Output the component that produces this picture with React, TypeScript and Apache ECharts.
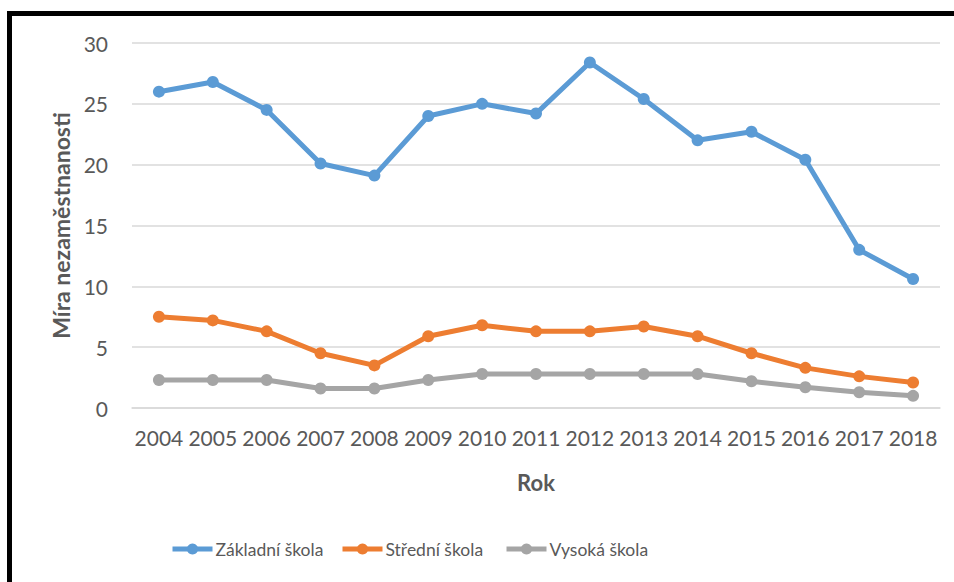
import React, { useEffect, useRef } from "react";
import * as echarts from "echarts";

const years = ["2004","2005","2006","2007","2008","2009","2010","2011","2012","2013","2014","2015","2016","2017","2018"];
const zakladni = [26.0, 26.8, 24.5, 20.1, 19.1, 24.0, 25.0, 24.2, 28.4, 25.4, 22.0, 22.7, 20.4, 13.0, 10.6];
const stredni = [7.5, 7.2, 6.3, 4.5, 3.5, 5.9, 6.8, 6.3, 6.3, 6.7, 5.9, 4.5, 3.3, 2.6, 2.1];
const vysoka = [2.3, 2.3, 2.3, 1.6, 1.6, 2.3, 2.8, 2.8, 2.8, 2.8, 2.8, 2.2, 1.7, 1.3, 1.0];
const seriesNames = ["Základní škola", "Střední škola", "Vysoká škola"];
const colors = ["#5B9BD5", "#ED7D31", "#A5A5A5"];
const legendLefts = [170, 340, 504];

export default function App() {
  const ref = useRef<HTMLDivElement>(null);
  useEffect(() => {
    if (!ref.current) return;
    const chart = echarts.init(ref.current, null, { renderer: "svg" });
    const font = "Lato, 'Open Sans', sans-serif";
    const mk = (name: string, data: number[], color: string) => ({
      name,
      type: "line",
      data,
      symbol: "circle",
      symbolSize: 12,
      lineStyle: { width: 5, color },
      itemStyle: { color },
    });
    chart.setOption({
      animation: false,
      backgroundColor: "#ffffff",
      textStyle: { fontFamily: font },
      grid: { left: 132, right: 14, top: 43, bottom: 174, containLabel: false },
      xAxis: {
        type: "category",
        data: years,
        boundaryGap: true,
        axisLine: { show: true, lineStyle: { color: "#d9d9d9", width: 1.5 } },
        axisTick: { show: false },
        axisLabel: { color: "#595959", fontSize: 21, margin: 19, interval: 0, fontFamily: font },
        name: "Rok",
        nameLocation: "middle",
        nameGap: 63,
        nameTextStyle: { color: "#595959", fontSize: 22, fontWeight: "bold", fontFamily: font },
      },
      yAxis: {
        type: "value",
        min: 0,
        max: 30,
        interval: 5,
        axisLine: { show: false },
        axisTick: { show: false },
        splitLine: { lineStyle: { color: "#d9d9d9", width: 1.5 } },
        axisLabel: { color: "#595959", fontSize: 21, margin: 24, fontFamily: font },
        name: "Míra nezaměstnanosti",
        nameLocation: "middle",
        nameGap: 55,
        nameRotate: 90,
        nameTextStyle: { color: "#595959", fontSize: 23, fontWeight: "bold", fontFamily: font },
      },
      legend: seriesNames.map((n, i) => ({
        top: 540,
        left: legendLefts[i],
        padding: 0,
        itemWidth: 40,
        itemHeight: 14,
        lineStyle: { width: 5 },
        textStyle: {
          color: "#595959",
          fontSize: 17.5,
          fontFamily: font,
          padding: [0, 0, 0, -2],
        },
        data: [n],
      })),
      graphic: [
        {
          type: "rect",
          shape: { x: 9.5, y: 13.5, width: 980, height: 620 },
          style: { fill: "none", stroke: "#000000", lineWidth: 5 },
          silent: true,
          z: 100,
        },
      ],
      series: [
        mk(seriesNames[0], zakladni, colors[0]),
        mk(seriesNames[1], stredni, colors[1]),
        mk(seriesNames[2], vysoka, colors[2]),
      ],
    });
    return () => chart.dispose();
  }, []);
  return (
    <div
      ref={ref}
      style={{ position: "absolute", left: 0, top: 0, width: 954, height: 582 }}
    />
  );
}
